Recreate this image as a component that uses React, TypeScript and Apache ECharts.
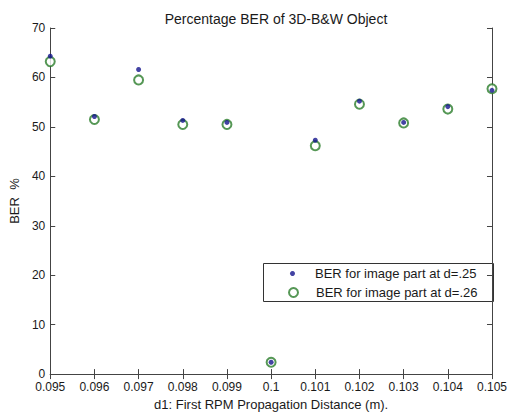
import React, { useEffect, useRef } from "react";
import * as echarts from "echarts";

const categories = ["0.095", "0.096", "0.097", "0.098", "0.099", "0.1", "0.101", "0.102", "0.103", "0.104", "0.105"];
const ber25 = [64.3, 52.1, 61.6, 51.3, 50.9, 2.4, 47.3, 55.2, 50.9, 54.1, 57.4];
const ber26 = [63.2, 51.5, 59.5, 50.5, 50.5, 2.4, 46.2, 54.6, 50.8, 53.6, 57.7];
const yTicks = { min: 0, max: 70, interval: 10 };
const seriesNames = ["BER for image part at d=.25", "BER for image part at d=.26"];
const titleText = "Percentage BER of 3D-B&W Object";
const xName = "d1: First RPM Propagation Distance (m).";
const yName = "BER  %";

const FONT = "'Liberation Sans', Arial, Helvetica, sans-serif";
const AX = "#444";
const TXT = "#1a1a1a";

export default function App() {
  const ref = useRef<HTMLDivElement>(null);
  useEffect(() => {
    if (!ref.current) return;
    const chart = echarts.init(ref.current, undefined, { renderer: "svg" });
    const baseX = {
      type: "category" as const,
      data: categories,
      boundaryGap: false,
      axisLine: { show: true, lineStyle: { color: AX, width: 1 } },
      axisTick: { show: true, inside: true, length: 5, alignWithLabel: true, lineStyle: { color: AX } },
      splitLine: { show: false },
    };
    const baseY = {
      type: "value" as const,
      min: yTicks.min,
      max: yTicks.max,
      interval: yTicks.interval,
      axisLine: { show: true, lineStyle: { color: AX, width: 1 } },
      axisTick: { show: true, inside: true, length: 5, lineStyle: { color: AX } },
      splitLine: { show: false },
    };
    chart.setOption({
      animation: false,
      backgroundColor: "#ffffff",
      textStyle: { fontFamily: FONT },
      title: {
        text: titleText,
        left: 271,
        textAlign: "center",
        top: 7,
        textStyle: { fontSize: 14, fontWeight: "normal", color: TXT, fontFamily: FONT },
      },
      grid: { left: 50, right: 14, top: 28, bottom: 38, containLabel: false },
      xAxis: [
        {
          ...baseX,
          position: "bottom",
          name: xName,
          nameLocation: "middle",
          nameGap: 21,
          nameTextStyle: { fontSize: 13, color: TXT, fontFamily: FONT },
          axisLabel: { show: true, fontSize: 12, lineHeight: 12, color: TXT, margin: 7, fontFamily: FONT, showMinLabel: true, showMaxLabel: true, interval: 0 },
        },
        {
          ...baseX,
          position: "top",
          axisLabel: { show: false },
        },
      ],
      yAxis: [
        {
          ...baseY,
          position: "left",
          name: yName,
          nameLocation: "middle",
          nameGap: 29,
          nameRotate: 90,
          nameTextStyle: { fontSize: 13, color: TXT, fontFamily: FONT },
          axisLabel: { show: true, fontSize: 12, lineHeight: 10, color: TXT, margin: 5, fontFamily: FONT },
        },
        {
          ...baseY,
          position: "right",
          axisLabel: { show: false },
        },
      ],
      legend: [
        {
          data: [seriesNames[0]],
          orient: "vertical",
          left: 290,
          top: 267,
          itemWidth: 5,
          itemHeight: 5,
          itemGap: 0,
          padding: 0,
          icon: "circle",
          textStyle: { fontSize: 13, color: TXT, fontFamily: FONT, padding: [0, 0, 0, 15] },
        },
        {
          data: [seriesNames[1]],
          orient: "vertical",
          left: 288,
          top: 286,
          itemWidth: 9,
          itemHeight: 9,
          itemGap: 0,
          padding: 0,
          icon: "emptyCircle",
          textStyle: { fontSize: 13, color: TXT, fontFamily: FONT, padding: [0, 0, 0, 13] },
        },
      ],
      graphic: [
        {
          type: "rect",
          left: 263,
          top: 263,
          shape: { width: 230, height: 38 },
          style: { fill: "#ffffff", stroke: "#333", lineWidth: 1 },
          z: 0,
          zlevel: 0,
        },
      ],
      series: [
        {
          name: seriesNames[0],
          type: "scatter",
          data: ber25,
          symbol: "circle",
          symbolSize: 5,
          itemStyle: { color: "#14148c" },
          z: 3,
        },
        {
          name: seriesNames[1],
          type: "scatter",
          data: ber26,
          symbol: "emptyCircle",
          symbolSize: 9,
          itemStyle: { color: "#2a7d2a", borderWidth: 1 },
          z: 2,
        },
      ],
    });
    return () => chart.dispose();
  }, []);
  return (
    <div
      ref={ref}
      style={{ position: "fixed", left: 0, top: 0, width: 510, height: 416, background: "#fff" }}
    />
  );
}
